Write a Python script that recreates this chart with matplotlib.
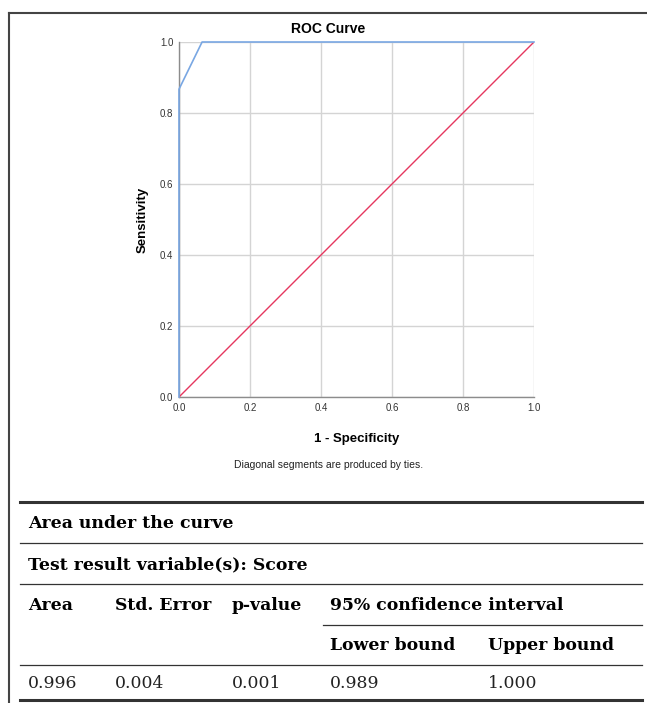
import matplotlib.pyplot as plt
from matplotlib.lines import Line2D

# ROC curve points
fpr = [0.0, 0.0, 0.065, 1.0]
tpr = [0.0, 0.867, 1.0, 1.0]
ref_x = [0.0, 1.0]
ref_y = [0.0, 1.0]
ticks = [0.0, 0.2, 0.4, 0.6, 0.8, 1.0]
tick_labels = ["0.0", "0.2", "0.4", "0.6", "0.8", "1.0"]

# table contents
table_title = "Area under the curve"
table_sub = "Test result variable(s): Score"
headers = ["Area", "Std. Error", "p-value", "95% confidence interval"]
sub_headers = ["Lower bound", "Upper bound"]
values = ["0.996", "0.004", "0.001", "0.989", "1.000"]

W, H = 647, 703
fig = plt.figure(figsize=(W / 100, H / 100), dpi=100)


def fx(x):
    return x / W


def fy(y):
    return 1 - y / H


ax = fig.add_axes([fx(179), fy(397), fx(534) - fx(179), fy(42) - fy(397)])
ax.plot(ref_x, ref_y, color="#e5375f", lw=1.0, zorder=3)
ax.plot(fpr, tpr, color="#79a7e3", lw=1.2, zorder=4, clip_on=False)
ax.set_xlim(0, 1)
ax.set_ylim(0, 1)
ax.set_xticks(ticks)
ax.set_yticks(ticks)
ax.set_xticklabels(tick_labels, fontsize=7, family="Liberation Sans", color="#333333")
ax.set_yticklabels(tick_labels, fontsize=7, family="Liberation Sans", color="#333333")
ax.tick_params(length=0, pad=4)
ax.tick_params(axis="x", pad=4)
ax.grid(True, color="#d4d4d4", lw=1.0)
ax.set_axisbelow(True)
for s in ["top", "right"]:
    ax.spines[s].set_visible(False)
for s in ["left", "bottom"]:
    ax.spines[s].set_color("#8c8c8c")
    ax.spines[s].set_linewidth(1.0)
ax.set_ylabel("Sensitivity", fontsize=9.5, fontweight="bold", family="Liberation Sans", labelpad=8)
ax.set_xlabel("1 - Specificity", fontsize=9.5, fontweight="bold", family="Liberation Sans", labelpad=15)

fig.text(fx(328), fy(29), "ROC Curve", ha="center", va="center", fontsize=10,
         fontweight="bold", family="Liberation Sans")
fig.text(fx(329), fy(465), "Diagonal segments are produced by ties.", ha="center", va="center",
         fontsize=7.5, family="Liberation Sans", color="#222222")

# outer frame
fig.add_artist(Line2D([fx(9), fx(647)], [fy(13), fy(13)], color="#444444", lw=1.5))
fig.add_artist(Line2D([fx(9), fx(9)], [fy(13), fy(703)], color="#444444", lw=1.5))

# table rules
def hline(y, x0=20, x1=642, lw=0.9):
    fig.add_artist(Line2D([fx(x0), fx(x1)], [fy(y), fy(y)], color="#333333", lw=lw))


hline(502, lw=2.2)
hline(543)
hline(584)
hline(625, x0=323)
hline(665)
hline(700, lw=2.2)

serif = "DejaVu Serif"
tsize = 12.4
fig.text(fx(28), fy(524), table_title, ha="left", va="center", fontsize=tsize,
         fontweight="bold", family=serif)
fig.text(fx(28), fy(565), table_sub, ha="left", va="center", fontsize=tsize,
         fontweight="bold", family=serif)
col_x = [28, 115, 232, 330, 488]
for x, h in zip(col_x[:4], headers):
    fig.text(fx(x), fy(606), h, ha="left", va="center", fontsize=tsize, fontweight="bold", family=serif)
for x, h in zip(col_x[3:], sub_headers):
    fig.text(fx(x), fy(646), h, ha="left", va="center", fontsize=tsize, fontweight="bold", family=serif)
for x, v in zip(col_x, values):
    fig.text(fx(x), fy(683), v, ha="left", va="center", fontsize=tsize, family=serif, color="#222222")

fig.savefig("out.png", dpi=100)
